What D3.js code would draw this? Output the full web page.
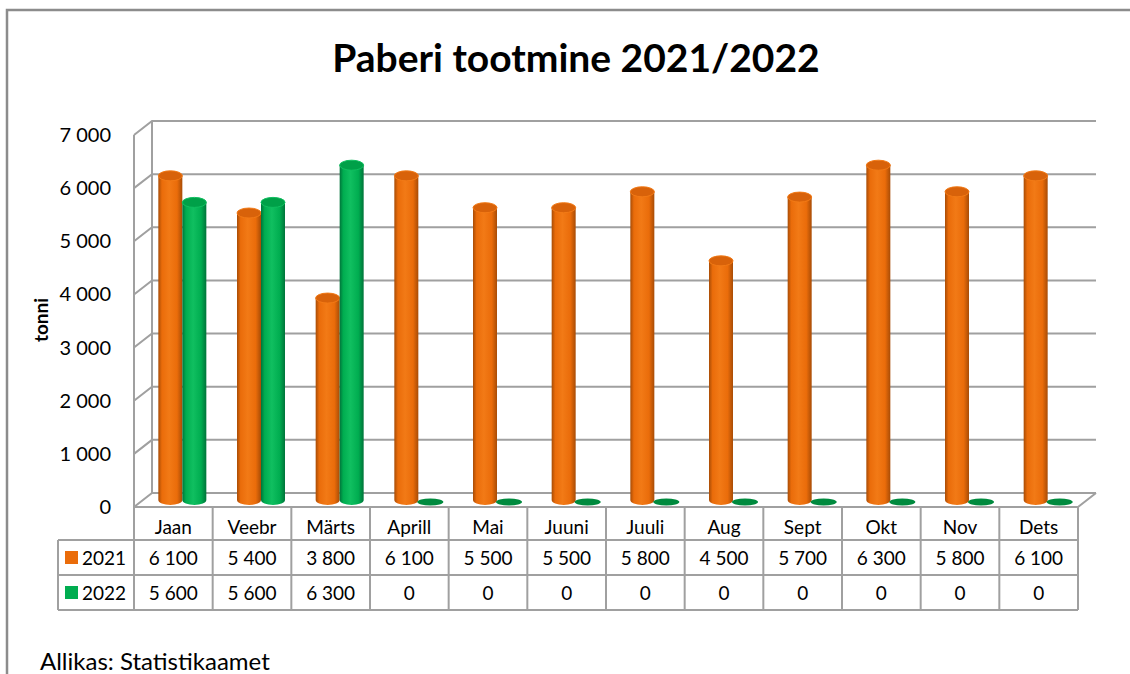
<!DOCTYPE html>
<html>
<head>
<meta charset="utf-8">
<script src="https://cdn.jsdelivr.net/npm/d3@7"></script>
<style>
  body { margin: 0; background: #fff; }
  text { font-family: Lato, "Open Sans", sans-serif; fill: #000; }
</style>
</head>
<body>
<svg width="1130" height="674"></svg>
<script>
const months = ["Jaan", "Veebr", "Märts", "Aprill", "Mai", "Juuni", "Juuli", "Aug", "Sept", "Okt", "Nov", "Dets"];
const years = ["2021", "2022"];
const values2021 = [6100, 5400, 3800, 6100, 5500, 5500, 5800, 4500, 5700, 6300, 5800, 6100];
const values2022 = [5600, 5600, 6300, 0, 0, 0, 0, 0, 0, 0, 0, 0];
const yTicks = [0, 1000, 2000, 3000, 4000, 5000, 6000, 7000];

const svg = d3.select("svg");
const grid = "#a0a0a0";
const fmt = (v) => d3.format(",")(v).replace(/,/g, " ");

// 3D depth offset of the plot box
const dx = 18, dy = -14;
const x = d3.scaleBand().domain(months).range([134, 1078]);
const y = d3.scaleLinear().domain([0, 7000]).range([507, 135]);
const series = [
  { year: years[0], values: values2021, dark: "#a84c06", mid: "#ea6c0a", light: "#f27a16", top: "#d8620a" },
  { year: years[1], values: values2022, dark: "#00743a", mid: "#00ad50", light: "#10bf60", top: "#00a048" }
];

// outer frame
svg.append("path").attr("d", "M7,674 V10 H1132").attr("fill", "none").attr("stroke", "#8c8c8c").attr("stroke-width", 2.5);

// gradients
const defs = svg.append("defs");
series.forEach((s, i) => {
  const g = defs.append("linearGradient").attr("id", "cyl" + i);
  [[0, s.dark], [0.15, s.mid], [0.45, s.light], [0.78, s.mid], [1, s.dark]].forEach(([o, c]) =>
    g.append("stop").attr("offset", o).attr("stop-color", c));
});

// back wall grid lines and side-wall diagonals
const gl = svg.append("g").attr("stroke", grid).attr("stroke-width", 2).attr("fill", "none");
yTicks.forEach((t) => {
  gl.append("path").attr("d", `M134,${y(t)} L${134 + dx},${y(t) + dy} H${1078 + dx}`);
});
gl.append("line").attr("x1", 134 + dx).attr("x2", 134 + dx).attr("y1", y(7000) + dy).attr("y2", y(0) + dy);
gl.append("line").attr("x1", 134).attr("x2", 134).attr("y1", y(7000)).attr("y2", 610);
gl.append("path").attr("d", `M134,${y(0)} H1078 L${1078 + dx},${y(0) + dy}`);

// y tick labels
svg.append("g").selectAll("text").data(yTicks).join("text")
  .attr("x", 111).attr("y", (d) => y(d) + 7)
  .attr("text-anchor", "end").attr("font-size", 20).text(fmt);

svg.append("text").attr("transform", "translate(48,320) rotate(-90)")
  .attr("text-anchor", "middle").attr("font-size", 19).attr("font-weight", "bold").text("tonni");

// cylinders
const bw = 24, ry = 5;
const bars = svg.append("g");
months.forEach((m, i) => {
  const cx0 = x(m) + x.bandwidth() / 2 + dx / 2;
  series.forEach((s, k) => {
    const v = s.values[i];
    const left = cx0 - bw + k * bw;
    const cx = left + bw / 2;
    const base = y(0) + dy / 2;
    const top = y(v) + dy / 2;
    if (v > 0) {
      bars.append("path")
        .attr("d", `M${left},${top} V${base} A${bw / 2},${ry} 0 0 0 ${left + bw},${base} V${top} Z`)
        .attr("fill", `url(#cyl${k})`);
      bars.append("ellipse").attr("cx", cx).attr("cy", top).attr("rx", bw / 2).attr("ry", ry)
        .attr("fill", s.top).attr("stroke", s.light).attr("stroke-width", 1);
    } else {
      bars.append("ellipse").attr("cx", cx).attr("cy", base + 2).attr("rx", bw / 2 + 1).attr("ry", 3.5)
        .attr("fill", "#008a3e");
    }
  });
});

// data table
const rows = [507, 540, 575, 610];
const tg = svg.append("g").attr("stroke", grid).attr("stroke-width", 2).attr("fill", "none");
tg.append("line").attr("x1", 134).attr("x2", 1078).attr("y1", rows[0]).attr("y2", rows[0]);
[1, 2, 3].forEach((r) => tg.append("line").attr("x1", 58).attr("x2", 1078).attr("y1", rows[r]).attr("y2", rows[r]));
tg.append("line").attr("x1", 58).attr("x2", 58).attr("y1", rows[1]).attr("y2", rows[3]);
months.forEach((m) => {
  tg.append("line").attr("x1", x(m) + x.step()).attr("x2", x(m) + x.step()).attr("y1", rows[0]).attr("y2", rows[3]);
});

const tt = svg.append("g").attr("font-size", 19).attr("text-anchor", "middle");
months.forEach((m, i) => {
  const cx = x(m) + x.bandwidth() / 2;
  tt.append("text").attr("x", cx).attr("y", rows[0] + 27).text(m);
  tt.append("text").attr("x", cx).attr("y", rows[1] + 25).text(fmt(values2021[i]));
  tt.append("text").attr("x", cx).attr("y", rows[2] + 25).text(fmt(values2022[i]));
});
series.forEach((s, k) => {
  svg.append("rect").attr("x", 65).attr("y", rows[k + 1] + 11).attr("width", 13).attr("height", 13).attr("fill", s.mid);
  svg.append("text").attr("x", 82).attr("y", rows[k + 1] + 25).attr("font-size", 19).text(s.year);
});

// title and source
svg.append("text").attr("x", 576).attr("y", 72).attr("text-anchor", "middle")
  .attr("font-size", 39).attr("font-weight", "bold").text("Paberi tootmine 2021/2022");
svg.append("text").attr("x", 40).attr("y", 670).attr("font-size", 24).text("Allikas: Statistikaamet");
</script>
</body>
</html>
